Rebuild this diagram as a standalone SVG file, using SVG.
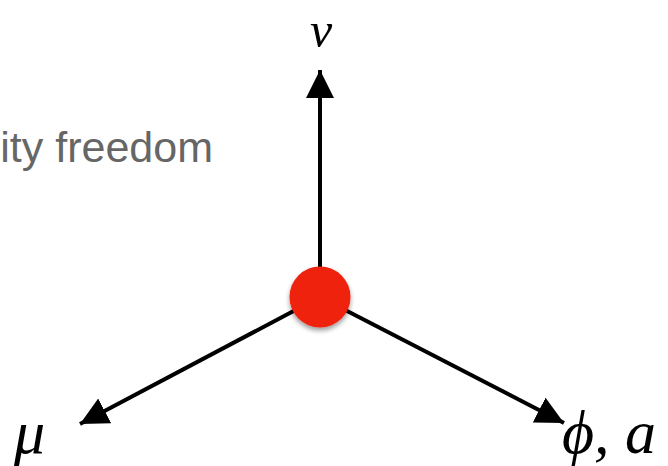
<svg xmlns="http://www.w3.org/2000/svg" width="668" height="466" viewBox="0 0 668 466">
<style>
.ln{stroke:#000;stroke-width:4;fill:none}
.m{font-family:"Liberation Serif","DejaVu Serif",serif;font-style:italic;fill:#000}
.t{font-family:"Liberation Sans",Arial,sans-serif;fill:#666}
</style>
<defs>
<marker id="ah" viewBox="0 0 10 10" refX="10" refY="5" markerWidth="7" markerHeight="7" orient="auto" markerUnits="strokeWidth">
<path d="M0,0 L10,5 L0,10 z" fill="#000"/>
</marker>
<filter id="sh" x="-30%" y="-30%" width="160%" height="160%">
<feGaussianBlur in="SourceAlpha" stdDeviation="2.5"/>
<feOffset dx="0" dy="3"/>
<feComponentTransfer><feFuncA type="linear" slope="0.4"/></feComponentTransfer>
<feMerge><feMergeNode/><feMergeNode in="SourceGraphic"/></feMerge>
</filter>
</defs>
<rect width="668" height="466" fill="#fff"/>
<text class="t" x="213" y="162" font-size="43" text-anchor="end">ity freedom</text>
<g id="connectors">
<line class="ln" x1="320" y1="297" x2="320" y2="70" marker-end="url(#ah)"/>
<line class="ln" x1="320" y1="297" x2="80" y2="424" marker-end="url(#ah)"/>
<line class="ln" x1="320" y1="297" x2="564" y2="423" marker-end="url(#ah)"/>
</g>
<g id="vertex"><circle cx="320" cy="297" r="30.5" fill="#ee2211" filter="url(#sh)"/></g>
<g id="nu"><text class="m" x="321" y="47" font-size="50" text-anchor="middle">ν</text></g>
<g id="mu"><text class="m" x="14" y="453" font-size="62">μ</text></g>
<g id="phi"><text class="m" x="562" y="453" font-size="62">ϕ, a</text></g>
</svg>
